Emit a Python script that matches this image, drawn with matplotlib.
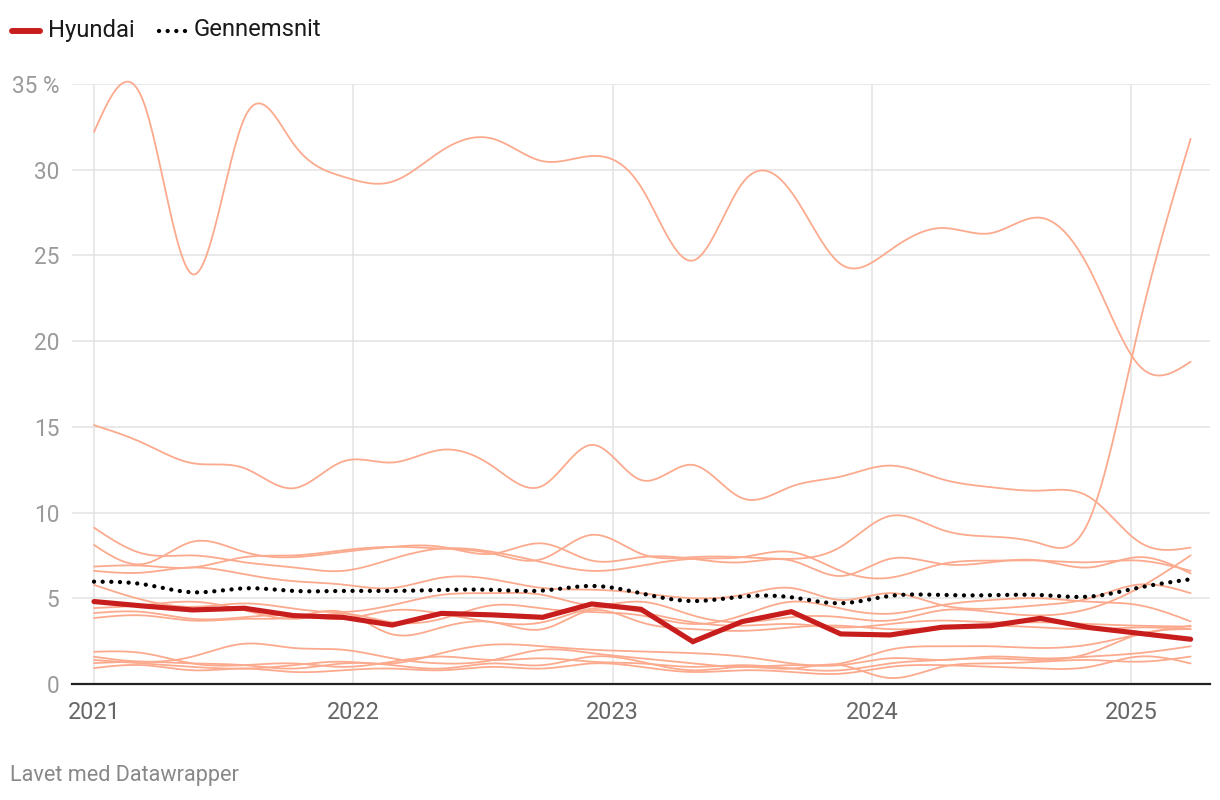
import numpy as np
import matplotlib
matplotlib.use("Agg")
import matplotlib.pyplot as plt
from matplotlib.lines import Line2D

plt.rcParams['font.family'] = ['Roboto', 'DejaVu Sans']

# ---- data ----
periods = [2021.0, 2021.19, 2021.38, 2021.58, 2021.77, 2021.96, 2022.15, 2022.34,
           2022.54, 2022.73, 2022.92, 2023.11, 2023.31, 2023.50, 2023.69, 2023.88,
           2024.07, 2024.27, 2024.46, 2024.65, 2024.84, 2025.03, 2025.23]

hyundai = [4.81, 4.55, 4.32, 4.42, 3.99, 3.89, 3.44, 4.12, 4.03, 3.89, 4.67, 4.36,
           2.47, 3.64, 4.22, 2.92, 2.86, 3.31, 3.40, 3.83, 3.29, 2.96, 2.61]

average = [5.97, 5.82, 5.35, 5.58, 5.43, 5.43, 5.43, 5.49, 5.49, 5.45, 5.72, 5.29,
           4.84, 5.10, 5.06, 4.71, 5.14, 5.19, 5.18, 5.19, 5.10, 5.62, 6.11]

brand_top = [32.2, 34.0, 23.9, 33.0, 31.5, 29.6, 29.3, 31.1, 31.8, 30.5, 30.8, 29.0,
             24.7, 29.2, 28.7, 24.5, 25.3, 26.6, 26.3, 27.2, 24.2, 18.6, 18.8]
brand_2 = [15.1, 14.05, 12.88, 12.59, 11.42, 12.98, 12.92, 13.66, 12.68, 11.56, 13.95,
           11.9, 12.78, 10.84, 11.52, 12.1, 12.74, 11.95, 11.48, 11.28, 10.9, 8.3, 7.96]
brand_3 = [6.85, 6.9, 6.8, 7.4, 7.5, 7.8, 8.0, 7.9, 7.6, 7.3, 8.7, 7.6, 7.4, 7.4, 7.3,
           8.0, 9.8, 9.0, 8.6, 8.2, 9.6, 20.8, 31.8]
brand_4 = [9.12, 7.6, 7.5, 7.1, 6.8, 6.6, 7.3, 7.9, 7.7, 7.1, 6.6, 6.9, 7.3, 7.4, 7.7,
           6.6, 6.2, 7.0, 7.2, 7.2, 7.1, 7.2, 6.6]
brand_5 = [8.11, 7.0, 8.3, 7.7, 7.4, 7.7, 8.0, 8.0, 7.6, 8.2, 7.2, 7.4, 7.3, 7.1, 7.2,
           6.3, 7.3, 7.0, 7.1, 7.2, 6.8, 7.4, 6.45]
brand_6 = [6.6, 6.5, 6.8, 6.4, 6.0, 5.8, 5.6, 6.2, 6.1, 5.6, 5.5, 5.3, 5.0, 5.2, 5.6,
           4.9, 5.3, 4.6, 4.4, 4.6, 5.0, 5.8, 5.3]
brand_7 = [5.78, 4.9, 4.5, 4.7, 4.4, 4.2, 4.6, 5.2, 5.3, 5.2, 4.6, 4.8, 4.0, 3.6, 3.9,
           3.9, 3.7, 4.3, 4.2, 4.0, 4.4, 5.6, 7.5]
brand_8 = [4.43, 4.6, 4.8, 4.3, 3.8, 4.1, 3.6, 3.8, 4.6, 4.4, 4.2, 4.0, 3.5, 4.0, 4.8,
           4.4, 4.1, 4.6, 4.9, 5.0, 4.8, 4.6, 3.65]
brand_9 = [4.14, 4.2, 3.8, 3.9, 4.0, 3.8, 4.3, 4.1, 3.6, 3.6, 4.4, 4.2, 3.6, 3.4, 3.5,
           3.3, 3.5, 3.7, 3.6, 3.6, 3.5, 3.4, 3.35]
brand_10 = [3.85, 4.0, 3.7, 3.8, 3.9, 4.2, 2.9, 3.3, 3.6, 3.2, 4.3, 3.6, 3.2, 3.1, 3.3,
            3.4, 3.2, 3.3, 3.4, 3.3, 3.2, 3.3, 3.2]
brand_11 = [1.88, 1.8, 1.2, 1.1, 1.2, 1.0, 1.3, 1.6, 1.4, 1.5, 1.3, 1.2, 1.0, 1.1, 0.9,
            0.8, 1.2, 1.4, 1.5, 1.4, 1.8, 2.9, 3.2]
brand_12 = [1.59, 1.3, 1.6, 2.35, 2.1, 2.0, 1.5, 1.2, 1.4, 2.0, 1.8, 1.5, 1.2, 1.0, 1.1,
            1.2, 2.0, 2.2, 2.2, 2.1, 2.3, 2.9, 3.4]
brand_13 = [1.4, 1.2, 1.0, 0.9, 1.1, 1.3, 1.2, 1.8, 2.3, 2.2, 2.0, 1.9, 1.8, 1.6, 1.2,
            1.1, 1.5, 1.4, 1.6, 1.5, 1.6, 1.8, 2.2]
brand_14 = [1.22, 1.3, 1.2, 1.1, 0.9, 1.2, 1.1, 0.9, 1.2, 1.1, 1.6, 1.3, 0.8, 1.0, 0.9,
            1.1, 0.35, 1.0, 1.2, 1.3, 1.4, 1.3, 1.6]
brand_15 = [0.93, 1.1, 0.8, 0.9, 0.7, 0.8, 0.9, 0.8, 1.0, 0.9, 1.2, 1.0, 0.7, 0.8, 0.7,
            0.6, 1.0, 1.1, 1.0, 0.9, 1.0, 1.6, 1.2]

other_brands = [brand_top, brand_2, brand_3, brand_4, brand_5, brand_6, brand_7, brand_8,
                brand_9, brand_10, brand_11, brand_12, brand_13, brand_14, brand_15]

year_ticks = [2021, 2022, 2023, 2024, 2025]
y_ticks = [0, 5, 10, 15, 20, 25, 30, 35]
y_labels = ["0", "5", "10", "15", "20", "25", "30", "35 %"]

legend_labels = ["Hyundai", "Gennemsnit"]
footer = "Lavet med Datawrapper"


def natural_spline(x, y, n_out=600):
    x = np.asarray(x, float)
    y = np.asarray(y, float)
    n = len(x)
    h = np.diff(x)
    A = np.zeros((n, n))
    r = np.zeros(n)
    A[0, 0] = 1
    A[-1, -1] = 1
    for i in range(1, n - 1):
        A[i, i - 1] = h[i - 1]
        A[i, i] = 2 * (h[i - 1] + h[i])
        A[i, i + 1] = h[i]
        r[i] = 6 * ((y[i + 1] - y[i]) / h[i] - (y[i] - y[i - 1]) / h[i - 1])
    M = np.linalg.solve(A, r)
    xs = np.linspace(x[0], x[-1], n_out)
    idx = np.clip(np.searchsorted(x, xs) - 1, 0, n - 2)
    x0, x1 = x[idx], x[idx + 1]
    hh = x1 - x0
    a = (x1 - xs) / hh
    b = (xs - x0) / hh
    ys = (a * y[idx] + b * y[idx + 1]
          + ((a ** 3 - a) * M[idx] + (b ** 3 - b) * M[idx + 1]) * hh ** 2 / 6)
    return xs, ys


W, H = 1220, 800
fig = plt.figure(figsize=(W / 100, H / 100), dpi=100)
ax = fig.add_axes([72 / W, (H - 684) / H, (1210 - 72) / W, 600 / H])

x0_px, x1_px = 72, 1210
px_per_year = (1131 - 94) / 4
ax.set_xlim(2021 - (94 - x0_px) / px_per_year, 2021 + (x1_px - 94) / px_per_year)
ax.set_ylim(0, 35)

grid_col = "#e3e3e3"
for yt in y_ticks[1:]:
    ax.axhline(yt, color=grid_col, lw=1.1, zorder=0)
for xt in year_ticks:
    ax.axvline(xt, color=grid_col, lw=1.1, zorder=0)

light = "#fcaa8e"
for s in other_brands:
    xs, ys = natural_spline(periods, s)
    ax.plot(xs, ys, color=light, lw=1.3, zorder=2, clip_on=False,
            solid_capstyle="round")

xs, ys = natural_spline(periods, average)
ax.plot(xs, ys, color="black", lw=3.1, linestyle=(0, (0.01, 2.0)),
        dash_capstyle="round", zorder=4)

ax.plot(periods, hyundai, color="#c71e1d", lw=3.7, solid_capstyle="round",
        solid_joinstyle="miter", zorder=5)

for sp in ["top", "right", "left"]:
    ax.spines[sp].set_visible(False)
ax.spines["bottom"].set_color("#222222")
ax.spines["bottom"].set_linewidth(1.6)
ax.spines["bottom"].set_zorder(6)

ax.set_xticks(year_ticks)
ax.set_xticklabels([str(y) for y in year_ticks])
ax.set_yticks(y_ticks)
ax.set_yticklabels(y_labels)
ax.tick_params(axis="x", length=0, pad=12, labelsize=16.8, labelcolor="#666666")
ax.tick_params(axis="y", length=0, pad=9, labelsize=16.3, labelcolor="#9a9a9a")

# legend
fig.add_artist(Line2D([12 / W, 40 / W], [(H - 31) / H] * 2, color="#c71e1d", lw=4.3,
                      solid_capstyle="round"))
fig.text(48 / W, (H - 30) / H, legend_labels[0], fontsize=17.2, color="#1a1a1a",
         va="center", ha="left")
fig.add_artist(Line2D([159 / W, 186 / W], [(H - 31) / H] * 2, color="black", lw=3.1,
                      linestyle=(0, (0.01, 2.0)), dash_capstyle="round"))
fig.text(194 / W, (H - 30) / H, legend_labels[1], fontsize=17.2, color="#1a1a1a",
         va="center", ha="left")

fig.text(10 / W, (H - 776) / H, footer, fontsize=15.6, color="#888888",
         va="center", ha="left")

fig.savefig("out.png", dpi=100)
